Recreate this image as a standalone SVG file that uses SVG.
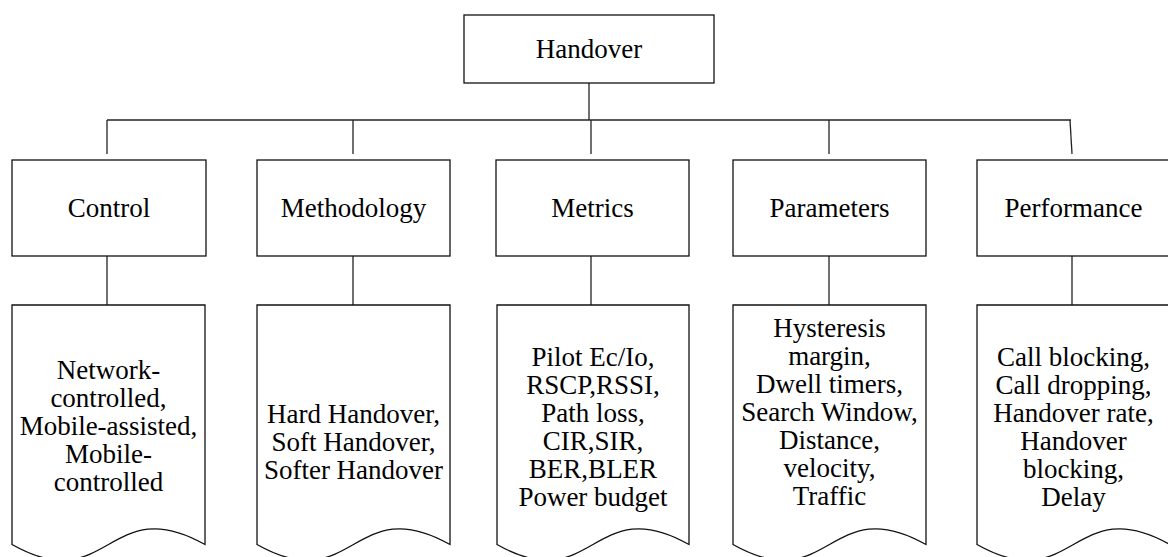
<svg xmlns="http://www.w3.org/2000/svg" width="1168" height="557" viewBox="0 0 1168 557">
  <style>
    .box { fill: #fff; stroke: #111; stroke-width: 1.3; }
    .doc { fill: #fff; stroke: #111; stroke-width: 1.3; }
    .wire { fill: none; stroke: #222; stroke-width: 1.3; }
    .lbl { font-size: 27px; fill: #000; text-anchor: middle; }
  </style>
  <rect width="1168" height="557" fill="#fff"/>

  <!-- connectors -->
  <g id="connectors">
    <line class="wire" x1="589" y1="83" x2="589" y2="120"/>
    <line class="wire" x1="107" y1="120" x2="1071" y2="120"/>
    <line class="wire" x1="107" y1="120" x2="107" y2="154"/>
    <line class="wire" x1="353" y1="120" x2="353" y2="154"/>
    <line class="wire" x1="591" y1="120" x2="591" y2="154"/>
    <line class="wire" x1="829" y1="120" x2="829" y2="154"/>
    <line class="wire" x1="1070" y1="120" x2="1072" y2="154"/>
    <line class="wire" x1="107" y1="256" x2="107" y2="305"/>
    <line class="wire" x1="353" y1="256" x2="353" y2="305"/>
    <line class="wire" x1="591" y1="256" x2="591" y2="305"/>
    <line class="wire" x1="829" y1="256" x2="829" y2="305"/>
    <line class="wire" x1="1072" y1="256" x2="1072" y2="305"/>
  </g>

  <g font-family="Liberation Serif, Times New Roman, DejaVu Serif, serif">
  <!-- root -->
  <g id="handover">
    <rect class="box" x="464" y="15" width="250" height="68"/>
    <text class="lbl" x="589" y="58">Handover</text>
  </g>

  <!-- categories -->
  <g id="control">
    <rect class="box" x="12" y="160" width="194" height="96"/>
    <text class="lbl" x="109" y="217">Control</text>
  </g>
  <g id="methodology">
    <rect class="box" x="257" y="160" width="193" height="96"/>
    <text class="lbl" x="353.5" y="217">Methodology</text>
  </g>
  <g id="metrics">
    <rect class="box" x="496" y="160" width="193" height="96"/>
    <text class="lbl" x="592.5" y="217">Metrics</text>
  </g>
  <g id="parameters">
    <rect class="box" x="733" y="160" width="193" height="96"/>
    <text class="lbl" x="829.5" y="217">Parameters</text>
  </g>
  <g id="performance">
    <rect class="box" x="977" y="160" width="193" height="96"/>
    <text class="lbl" x="1073.5" y="217">Performance</text>
  </g>

  <!-- detail documents (wavy bottom edge) -->
  <g id="control-detail">
    <path class="doc" d="M12,305 H205 V544.5 C108.5,490 108.5,599 12,544.5 Z"/>
    <text class="lbl" x="108.5" y="379">Network-</text>
    <text class="lbl" x="108.5" y="407">controlled,</text>
    <text class="lbl" x="108.5" y="435">Mobile-assisted,</text>
    <text class="lbl" x="108.5" y="463">Mobile-</text>
    <text class="lbl" x="108.5" y="491">controlled</text>
  </g>
  <g id="methodology-detail">
    <path class="doc" d="M257,305 H450 V544.5 C353.5,490 353.5,599 257,544.5 Z"/>
    <text class="lbl" x="353.5" y="423">Hard Handover,</text>
    <text class="lbl" x="353.5" y="451">Soft Handover,</text>
    <text class="lbl" x="353.5" y="479">Softer Handover</text>
  </g>
  <g id="metrics-detail">
    <path class="doc" d="M497,305 H689 V544.5 C593,490 593,599 497,544.5 Z"/>
    <text class="lbl" x="593" y="366">Pilot Ec/Io,</text>
    <text class="lbl" x="593" y="394">RSCP,RSSI,</text>
    <text class="lbl" x="593" y="422">Path loss,</text>
    <text class="lbl" x="593" y="450">CIR,SIR,</text>
    <text class="lbl" x="593" y="478">BER,BLER</text>
    <text class="lbl" x="593" y="506">Power budget</text>
  </g>
  <g id="parameters-detail">
    <path class="doc" d="M733,305 H926 V544.5 C829.5,490 829.5,599 733,544.5 Z"/>
    <text class="lbl" x="829.5" y="337">Hysteresis</text>
    <text class="lbl" x="829.5" y="365">margin,</text>
    <text class="lbl" x="829.5" y="393">Dwell timers,</text>
    <text class="lbl" x="829.5" y="421">Search Window,</text>
    <text class="lbl" x="829.5" y="449">Distance,</text>
    <text class="lbl" x="829.5" y="477">velocity,</text>
    <text class="lbl" x="829.5" y="505">Traffic</text>
  </g>
  <g id="performance-detail">
    <path class="doc" d="M977,305 H1170 V544.5 C1073.5,490 1073.5,599 977,544.5 Z"/>
    <text class="lbl" x="1073.5" y="366">Call blocking,</text>
    <text class="lbl" x="1073.5" y="394">Call dropping,</text>
    <text class="lbl" x="1073.5" y="422">Handover rate,</text>
    <text class="lbl" x="1073.5" y="450">Handover</text>
    <text class="lbl" x="1073.5" y="478">blocking,</text>
    <text class="lbl" x="1073.5" y="506">Delay</text>
  </g>
  </g>
</svg>
